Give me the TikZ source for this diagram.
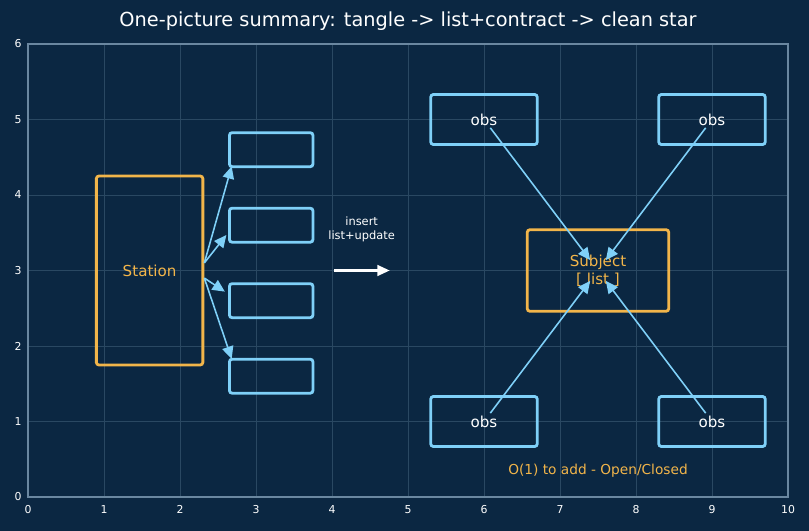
\documentclass[tikz,border=0pt]{standalone}
\usepackage{fontspec}
\setmainfont{DejaVu Sans}
\usetikzlibrary{arrows.meta}
\definecolor{bg}{HTML}{0B2742}
\definecolor{gridc}{HTML}{2A4862}
\definecolor{spine}{HTML}{6A87A0}
\definecolor{lb}{HTML}{7FD0F8}
\definecolor{orng}{HTML}{F2B54A}
\begin{document}
\begin{tikzpicture}[x=1.52cm,y=1.51cm,
  bluebox/.style={draw=lb, line width=1.6pt, rounded corners=1.5pt, inner sep=0pt},
  orangebox/.style={draw=orng, line width=1.6pt, rounded corners=1.5pt, inner sep=0pt, text=orng, font=\fontsize{8.6}{10}\selectfont, align=center},
  lbl/.style={text=white, font=\fontsize{8.6}{10}\selectfont},
  tick/.style={text=white, font=\fontsize{6.2}{7}\selectfont, inner sep=0pt},
  arr/.style={draw=lb, line width=0.9pt, -{Triangle[length=7pt,width=6.5pt]}},
  warr/.style={draw=white, line width=1.4pt, -{Triangle[length=7pt,width=6pt]}}]
\fill[bg] (-0.56cm,-0.68cm) rectangle (15.62cm,9.94cm);
\useasboundingbox (-0.56cm,-0.68cm) rectangle (15.62cm,9.94cm);
% grid
\foreach \i in {1,...,9} \draw[gridc, line width=0.4pt] (\i,0) -- (\i,6);
\foreach \j in {1,...,5} \draw[gridc, line width=0.4pt] (0,\j) -- (10,\j);
\draw[spine, line width=0.8pt] (0,0) rectangle (10,6);
% ticks
\foreach \i in {0,...,10} \node[tick, anchor=north] (xt\i) at (\i,-0.11) {\i};
\foreach \j in {0,...,6} \node[tick, anchor=east] (yt\j) at (-0.08,\j) {\j};
% title
\node[text=white, font=\fontsize{11}{13}\selectfont] (title) at (5,6.3) {One-picture summary: tangle -> list+contract -> clean star};
% left side
\node[orangebox, minimum width=2.13cm, minimum height=3.78cm] (st) at (1.6,3) {Station};
\foreach \k/\y in {1/4.6,2/3.6,3/2.6,4/1.6}
  \node[bluebox, minimum width=1.67cm, minimum height=0.68cm] (b\k) at (3.2,\y) {};
\coordinate (s1) at (2.32,3.1);
\coordinate (s2) at (2.32,2.9);
\coordinate (e1) at (2.68,4.38);
\coordinate (e2) at (2.61,3.47);
\coordinate (e3) at (2.59,2.72);
\coordinate (e4) at (2.68,1.83);
\draw[arr] (s1) -- (e1);
\draw[arr] (s1) -- (e2);
\draw[arr] (s2) -- (e3);
\draw[arr] (s2) -- (e4);
% middle
\node[text=white, font=\fontsize{6.5}{8}\selectfont, align=center] (ins) at (4.39,3.55) {insert\\list+update};
\coordinate (w1) at (4.03,3);
\coordinate (w2) at (4.76,3);
\draw[warr] (w1) -- (w2);
% right side
\node[orangebox, minimum width=2.83cm, minimum height=1.63cm] (subj) at (7.5,3) {Subject\\{}[ list ]};
\foreach \k/\x/\y in {1/6/5,2/9/5,3/6/1,4/9/1}
  \node[bluebox, minimum width=2.13cm, minimum height=1.0cm, lbl] (o\k) at (\x,\y) {obs};
\foreach \k in {1,...,4}
  \draw[arr, shorten <=0.21cm, shorten >=0.26cm] (o\k.center) -- (subj.center);
\node[text=orng, font=\fontsize{7.8}{9}\selectfont] (note) at (7.5,0.35) {O(1) to add - Open/Closed};
\end{tikzpicture}
\end{document}
